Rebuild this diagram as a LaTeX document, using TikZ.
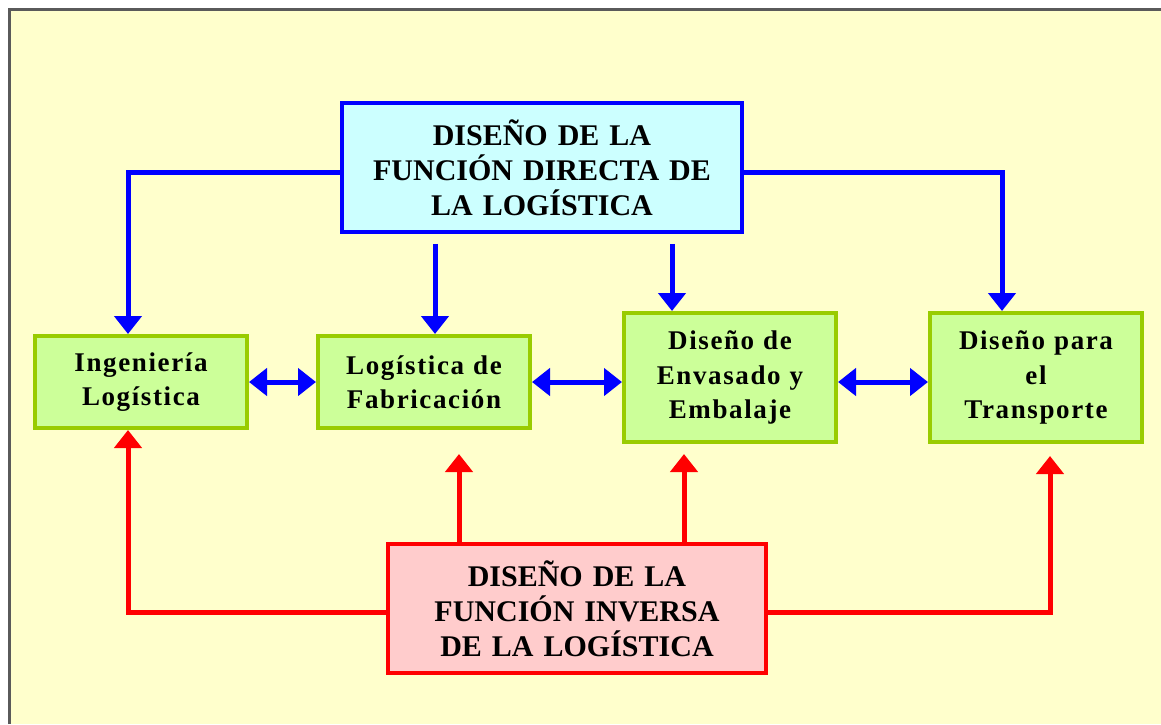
\documentclass[tikz,border=0pt]{standalone}
\usepackage{fontspec}
\setmainfont{Liberation Serif}
\newfontfamily\boxfont[LetterSpace=6]{Liberation Serif}
\usetikzlibrary{arrows.meta}
\definecolor{bgyellow}{HTML}{FFFFCC}
\definecolor{framegray}{HTML}{5A5A5A}
\definecolor{dirfill}{HTML}{CCFFFF}
\definecolor{invfill}{HTML}{FFCCCC}
\definecolor{stagefill}{HTML}{CCFF99}
\definecolor{stageline}{HTML}{99CC00}
\begin{document}
\begin{tikzpicture}[x=1pt,y=-1pt,
  mainbox/.style={line width=3.5pt, minimum height=129pt, align=center,
    font=\bfseries\fontsize{30}{35}\selectfont},
  stage/.style={draw=stageline, fill=stagefill, line width=4pt,
    minimum width=212pt, text width=200pt, align=center,
    font=\boxfont\bfseries\fontsize{27}{34.5}\selectfont},
  tip/.tip={Triangle[width=27pt,length=18pt]},
  bluearr/.style={draw=blue, line width=5pt, -tip},
  redarr/.style={draw=red, line width=5pt, -tip},
  linkarr/.style={draw=blue, line width=5pt, tip-tip}]
\useasboundingbox (0,0) rectangle (1161,724);
% background sheet
\fill[white] (0,0) rectangle (1161,724);
\fill[bgyellow] (9,9) rectangle (1161,724);
\draw[framegray, line width=3pt] (9,724) -- (9,9) -- (1161,9);

% the two design functions
\node[mainbox, draw=blue, fill=dirfill, minimum width=400pt, text width=380pt]
  (dir) at (542,167.5) {DISEÑO DE LA\\FUNCIÓN DIRECTA DE\\LA LOGÍSTICA};
\node[mainbox, draw=red, fill=invfill, minimum width=378pt, text width=360pt]
  (inv) at (577,608.5) {DISEÑO DE LA\\FUNCIÓN INVERSA\\DE LA LOGÍSTICA};

% the four stages
\node[stage, minimum height=92pt] (ing) at (141,382) {Ingeniería\\Logística};
\node[stage, minimum height=92pt] (fab) at (424,382) {Logística de\\Fabricación};
\node[stage, minimum height=129pt] (env) at (730,377.5) {Diseño de\\Envasado y\\Embalaje};
\node[stage, minimum height=129pt] (tra) at (1036,377.5) {Diseño para\\el\\Transporte};

% arrow ends on the stages
\coordinate (ingtop) at ([xshift=-13pt]ing.north);
\coordinate (fabtop) at ([xshift=11pt]fab.north);
\coordinate (envtop) at ([xshift=-58pt]env.north);
\coordinate (tratop) at ([xshift=-34pt]tra.north);
\coordinate (ingbot) at ([xshift=-13pt]ing.south);
\coordinate (fabbot) at ([xshift=35pt]fab.south);
\coordinate (envbot) at ([xshift=-46pt]env.south);
\coordinate (trabot) at ([xshift=14pt]tra.south);

% direct function
\draw[bluearr] ([yshift=-4.5pt]dir.west) -| (ingtop);
\draw[bluearr] ([yshift=-4.5pt]dir.east) -| (tratop);
\draw[bluearr, shorten <=10pt] (dir.south -| fabtop) -- (fabtop);
\draw[bluearr, shorten <=10pt] (dir.south -| envtop) -- (envtop);

% links between stages
\draw[linkarr] (ing.east) -- (fab.west);
\draw[linkarr] (fab.east) -- (fab.east -| env.west);
\draw[linkarr] (env.east |- fab.east) -- (tra.west |- fab.east);

% inverse function
\draw[redarr] ([yshift=-3.5pt]inv.west) -| (ingbot);
\draw[redarr, shorten >=12pt] ([yshift=-3.5pt]inv.east) -| (trabot);
\draw[redarr, shorten >=24pt] (inv.north -| fabbot) -- (fabbot);
\draw[redarr, shorten >=10pt] (inv.north -| envbot) -- (envbot);
\end{tikzpicture}
\end{document}
